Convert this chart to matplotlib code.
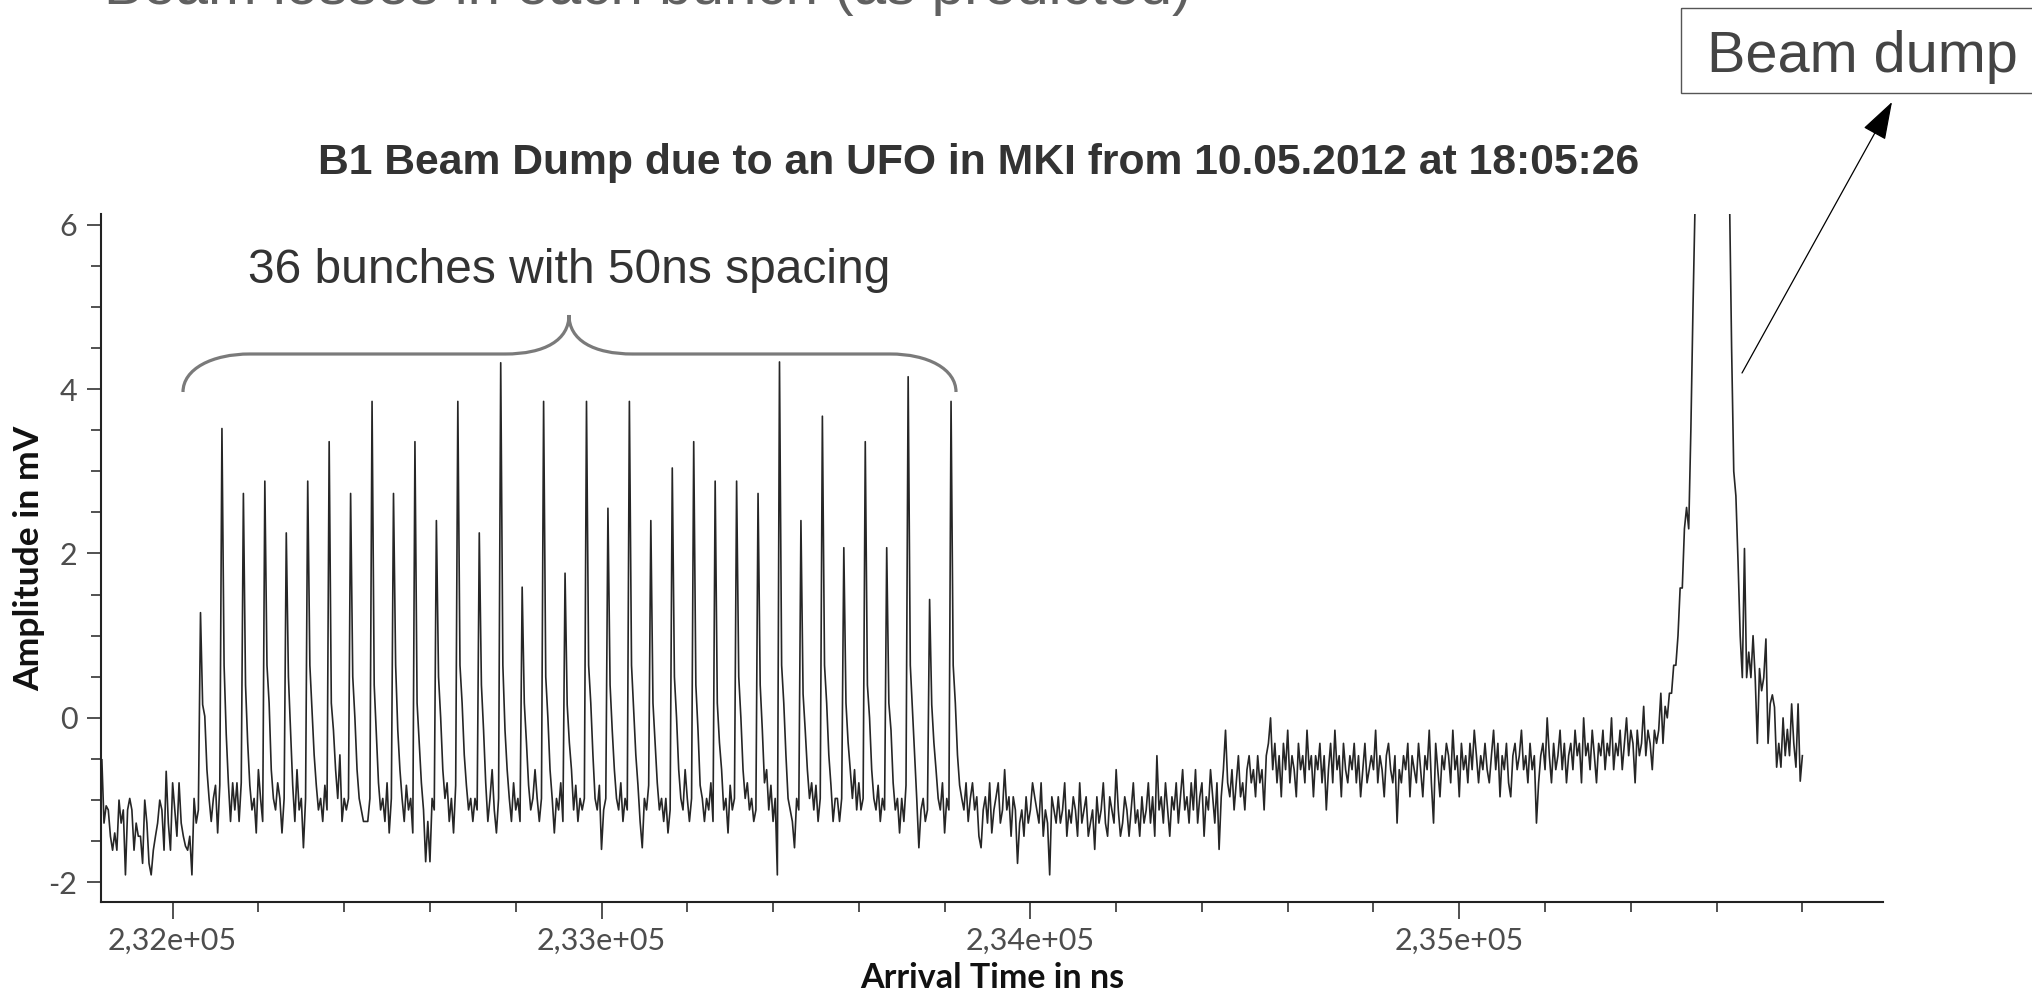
import numpy as np
import matplotlib.pyplot as plt
from matplotlib.patches import Rectangle, FancyArrowPatch, PathPatch
from matplotlib.path import Path
from matplotlib.ticker import MultipleLocator, FuncFormatter
from matplotlib.transforms import Affine2D

W, H = 2033, 994

# sampling of the scope trace
step_ns = 5
first_bunch_ns = 232065

# trace before the first bunch arrives (mV)
pre_train = [-0.51, -1.28, -1.07, -1.12, -1.44, -1.61, -1.40, -1.61, -1.00, -1.28,
             -1.12, -1.91, -1.12, -0.98, -1.12, -1.61, -1.28, -1.44, -1.44, -1.77,
             -1.00, -1.28, -1.77, -1.91, -1.61, -1.44, -1.28, -1.00, -1.12, -1.61,
             -0.65, -1.28, -1.61, -0.79, -1.12, -1.44, -0.79, -1.28, -1.44, -1.56,
             -1.61, -1.44, -1.91, -0.98, -1.28, -1.12]

# 36 bunches, 50 ns apart: peak value, then 9 samples of the tail
bunch_peaks = [1.28, 3.52, 2.73, 2.88, 2.25, 2.88, 3.36, 2.73, 3.85, 2.73,
               3.36, 2.40, 3.85, 2.25, 4.32, 1.59, 3.85, 1.76, 3.85, 2.55,
               3.85, 2.40, 3.04, 3.36, 2.88, 2.88, 2.73, 4.33, 2.40, 3.67,
               2.07, 3.36, 2.07, 4.15, 1.44, 3.85]
bunch_tails = [
    [0.16, 0.02, -0.63, -0.98, -1.26, -0.98, -0.82, -1.40, -0.82],
    [0.64, -0.20, -0.79, -1.26, -0.79, -1.12, -0.79, -1.26, -0.79],
    [0.40, -0.30, -0.82, -1.12, -0.98, -1.40, -0.63, -0.98, -1.26],
    [0.64, 0.18, -0.63, -0.98, -1.12, -0.79, -0.98, -1.40, -0.98],
    [0.50, -0.15, -0.82, -1.26, -0.63, -1.12, -0.98, -1.58, -0.98],
    [0.64, 0.10, -0.45, -0.82, -1.12, -0.98, -1.26, -0.82, -1.12],
    [0.18, -0.15, -0.63, -0.98, -0.45, -1.26, -0.98, -1.12, -0.98],
    [0.50, 0.00, -0.63, -0.98, -1.12, -1.26, -1.26, -1.26, -0.98],
    [0.40, -0.20, -0.79, -1.12, -0.98, -1.26, -0.79, -1.40, -0.98],
    [0.64, -0.15, -0.63, -0.98, -1.26, -0.82, -1.12, -0.98, -1.40],
    [0.18, -0.30, -0.79, -1.12, -1.75, -1.26, -1.75, -0.98, -1.12],
    [0.50, 0.00, -0.63, -0.98, -0.79, -1.26, -0.98, -1.40, -0.82],
    [0.64, 0.18, -0.45, -0.82, -1.12, -0.98, -1.26, -0.98, -1.12],
    [0.40, -0.15, -0.79, -1.26, -0.98, -0.63, -1.12, -1.40, -0.98],
    [0.64, -0.15, -0.63, -0.98, -1.26, -0.79, -1.12, -0.98, -1.26],
    [0.18, -0.30, -0.82, -1.12, -0.98, -0.63, -0.98, -1.26, -0.98],
    [0.50, 0.00, -0.63, -0.98, -1.40, -0.98, -1.12, -0.79, -1.26],
    [0.16, -0.30, -0.63, -1.12, -0.82, -1.26, -0.98, -1.12, -0.98],
    [0.64, 0.18, -0.45, -0.98, -1.12, -0.82, -1.60, -1.12, -0.98],
    [0.40, -0.15, -0.63, -0.98, -1.12, -0.79, -1.26, -0.98, -1.12],
    [0.64, 0.10, -0.45, -0.82, -1.26, -1.58, -0.98, -1.12, -0.82],
    [0.18, -0.30, -0.79, -1.12, -0.98, -1.26, -0.98, -1.40, -1.12],
    [0.50, 0.00, -0.63, -0.98, -1.12, -0.63, -0.98, -1.26, -0.98],
    [0.40, -0.15, -0.82, -0.98, -1.26, -0.98, -1.12, -0.79, -1.26],
    [0.18, -0.30, -0.63, -1.12, -0.98, -1.40, -0.82, -1.12, -0.98],
    [0.50, 0.00, -0.63, -0.98, -0.79, -1.12, -0.98, -1.26, -1.12],
    [0.40, -0.15, -0.79, -0.63, -1.12, -0.82, -1.26, -0.98, -1.91],
    [0.64, 0.18, -0.45, -0.98, -1.12, -1.26, -1.58, -0.98, -1.12],
    [0.29, -0.15, -0.63, -0.98, -0.79, -1.12, -0.82, -1.26, -0.98],
    [0.64, 0.18, -0.45, -0.82, -1.26, -0.98, -0.98, -1.26, -0.98],
    [0.18, -0.30, -0.63, -0.98, -0.63, -1.12, -0.79, -1.12, -0.98],
    [0.40, 0.00, -0.63, -0.98, -1.12, -0.82, -1.26, -0.98, -1.12],
    [0.18, -0.15, -0.79, -1.12, -0.98, -1.40, -0.98, -1.26, -0.82],
    [0.64, 0.10, -0.45, -0.98, -1.58, -1.12, -0.98, -1.26, -1.12],
    [0.16, -0.30, -0.63, -0.98, -1.12, -0.79, -1.40, -0.98, -1.12],
    [0.64, 0.18, -0.45, -0.82, -0.98, -1.12, -0.79, -1.26, -0.98],
]

# baseline after the train, up to the start of the dump (100 ns per two rows)
post_train = [
    -0.79, -1.12, -0.96, -1.44, -1.58, -1.12, -0.96, -1.28, -0.79, -1.40,
    -1.12, -0.96, -0.79, -1.28, -1.12, -0.63, -1.12, -0.96, -1.44, -0.96,
    -1.12, -1.77, -1.28, -1.12, -1.44, -0.96, -1.28, -1.12, -0.79, -0.96,
    -1.12, -1.28, -0.79, -1.44, -1.12, -1.28, -1.91, -0.96, -1.12, -1.28,
    -0.96, -1.28, -1.12, -0.79, -1.44, -1.12, -1.28, -0.96, -1.12, -1.44,
    -0.79, -1.28, -1.12, -0.96, -1.44, -1.28, -1.12, -1.60, -0.96, -1.28,
    -1.12, -0.79, -1.28, -1.44, -0.96, -1.12, -1.28, -0.63, -1.12, -1.44,
    -1.28, -0.96, -1.12, -1.44, -1.12, -0.79, -1.28, -1.12, -1.44, -0.96,
    -1.28, -1.12, -0.79, -1.28, -0.96, -1.44, -0.46, -1.12, -0.96, -1.28,
    -0.79, -1.12, -1.44, -0.96, -1.12, -0.79, -1.28, -0.96, -0.63, -1.12,
    -0.96, -1.28, -0.79, -1.12, -0.63, -1.28, -0.96, -0.79, -1.44, -0.96,
    -1.12, -0.63, -0.96, -1.28, -0.79, -1.60, -0.96, -0.63, -0.15, -0.79,
    -0.96, -0.63, -1.12, -0.79, -0.46, -0.96, -0.79, -1.12, -0.63, -0.46,
    -0.79, -0.63, -0.96, -0.46, -0.79, -0.63, -1.12, -0.46, -0.31, 0.00,
    -0.63, -0.31, -0.79, -0.46, -0.96, -0.31, -0.63, -0.15, -0.79, -0.46,
    -0.63, -0.96, -0.31, -0.63, -0.46, -0.79, -0.15, -0.63, -0.46, -0.96,
    -0.46, -0.63, -0.31, -0.79, -0.46, -1.12, -0.63, -0.31, -0.79, -0.15,
    -0.63, -0.46, -0.96, -0.31, -0.63, -0.79, -0.46, -0.63, -0.31, -0.79,
    -0.46, -0.96, -0.63, -0.31, -0.79, -0.63, -0.46, -0.63, -0.15, -0.79,
    -0.46, -0.63, -0.96, -0.46, -0.31, -0.63, -0.79, -0.46, -1.28, -0.63,
    -0.79, -0.46, -0.63, -0.31, -0.96, -0.46, -0.63, -0.79, -0.31, -0.63,
    -0.96, -0.46, -0.63, -0.15, -0.79, -1.28, -0.31, -0.63, -0.96, -0.46,
    -0.63, -0.31, -0.46, -0.79, -0.15, -0.63, -0.46, -0.96, -0.31, -0.63,
    -0.46, -0.79, -0.31, -0.63, -0.15, -0.46, -0.79, -0.46, -0.63, -0.31,
    -0.63, -0.79, -0.46, -0.15, -0.63, -0.31, -0.96, -0.46, -0.63, -0.31,
    -0.79, -0.96, -0.46, -0.31, -0.63, -0.46, -0.15, -0.63, -0.46, -0.79,
    -0.31, -0.63, -0.46, -1.28, -0.79, -0.46, -0.31, -0.63, 0.00, -0.46,
    -0.79, -0.31, -0.63, -0.46, -0.15, -0.63, -0.31, -0.79, -0.46, -0.31,
    -0.63, -0.15, -0.46, -0.31, -0.79, 0.00, -0.46, -0.31, -0.63, -0.15,
    -0.46, -0.79, -0.31, -0.46, -0.15, -0.63, -0.31, -0.46, 0.00, -0.63,
    -0.31, -0.46, -0.15, -0.63, -0.31, 0.00, -0.46, -0.15, -0.31, -0.79,
    -0.15, -0.46, -0.31, 0.14, -0.46, -0.15, -0.31, -0.63, -0.15, -0.31,
    -0.15, 0.30, -0.31, 0.14,
]

# the dump itself: fast rise, off-scale, decay back to the noise
dump = [0.00, 0.30, 0.30, 0.64, 0.64, 1.00, 1.58, 1.58, 2.30, 2.56,
        2.30, 3.50, 5.00, 6.30, 8.50, 11.0, 14.0, 17.0, 19.0, 20.0,
        20.0, 19.0, 17.0, 15.0, 13.0, 11.0, 9.50, 8.00, 7.00, 6.40,
        4.50, 3.00, 2.70, 1.90, 1.00, 0.49, 2.06, 0.49, 0.80, 0.49,
        1.00, 0.49, -0.31, 0.60, 0.33, 0.49, 0.96, -0.31, 0.17, 0.28,
        0.13, -0.60, -0.31, -0.60, 0.00, -0.46, -0.14, -0.46, 0.17, -0.31,
        -0.60, 0.17, -0.77, -0.46]

train = []
for peak, tail in zip(bunch_peaks, bunch_tails):
    train += [peak] + tail
signal = np.array(pre_train + train + post_train + dump)
t = first_bunch_ns - step_ns * len(pre_train) + step_ns * np.arange(len(signal))

fig = plt.figure(figsize=(W / 100, H / 100), dpi=100)
# reference pixel coordinates (origin top-left) -> figure
ref = Affine2D().scale(1 / W, -1 / H).translate(0, 1) + fig.transFigure

ax = fig.add_axes([101 / W, 1 - 902 / H, (1883 - 101) / W, (902 - 214) / H])
ax.plot(t, signal, color='#262626', lw=1.2)
ax.set_xlim(231833, 235988)
ax.set_ylim(-2.24, 6.13)

for s in ['top', 'right']:
    ax.spines[s].set_visible(False)
for s in ['left', 'bottom']:
    ax.spines[s].set_linewidth(1.5)
    ax.spines[s].set_color('#222222')

ax.xaxis.set_major_locator(MultipleLocator(1000))
ax.xaxis.set_minor_locator(MultipleLocator(200))
ax.yaxis.set_major_locator(MultipleLocator(2))
ax.yaxis.set_minor_locator(MultipleLocator(0.5))
ax.xaxis.set_major_formatter(FuncFormatter(lambda v, pos: f"{v:.2e}".replace('.', ',')))
ax.yaxis.set_major_formatter(FuncFormatter(lambda v, pos: f"{v:.0f}"))

ax.tick_params(axis='x', which='major', length=12, width=1.1, pad=6, color='#222222')
ax.tick_params(axis='x', which='minor', length=7, width=1.1, color='#222222')
ax.tick_params(axis='y', which='major', length=10, width=1.1, pad=7, color='#222222')
ax.tick_params(axis='y', which='minor', length=7, width=1.1, color='#222222')
for lab in ax.get_xticklabels() + ax.get_yticklabels():
    lab.set_fontfamily('Lato')
    lab.set_fontsize(22)
    lab.set_color('#4d4d4d')

ax.set_xlabel('Arrival Time in ns', fontfamily='Lato', fontweight='bold', fontsize=24.5,
              color='#111111', va='baseline')
ax.xaxis.set_label_coords(0.5, (902 - 988) / (902 - 214))
ax.set_ylabel('Amplitude in mV', fontfamily='Lato', fontweight='bold', fontsize=25.5,
              color='#111111', va='center')
ax.yaxis.set_label_coords((29 - 101) / (1883 - 101), 0.5)

# texts on the slide
fig.text(104, 4, 'Beam losses in each bunch (as predicted)', transform=ref,
         fontfamily='Liberation Sans', fontsize=42, color='#606060', va='baseline')
fig.text(979, 174, 'B1 Beam Dump due to an UFO in MKI from 10.05.2012 at 18:05:26',
         transform=ref, fontfamily='Liberation Sans', fontweight='bold', fontsize=30.7,
         color='#333333', ha='center', va='baseline')
fig.text(569, 283, '36 bunches with 50ns spacing', transform=ref,
         fontfamily='Liberation Sans', fontsize=34.5, color='#333333', ha='center', va='baseline')

# curly brace over the bunch train
verts = [(183, 392), (183, 369), (212, 354), (250, 354),
         (505, 354),
         (545, 354), (569, 340), (569, 315),
         (569, 340), (593, 354), (633, 354),
         (890, 354),
         (928, 354), (956, 369), (956, 392)]
codes = ([Path.MOVETO] + [Path.CURVE4] * 3 + [Path.LINETO] + [Path.CURVE4] * 6
         + [Path.LINETO] + [Path.CURVE4] * 3)
fig.add_artist(PathPatch(Path(verts, codes), transform=ref, fill=False,
                         edgecolor='#7a7a7a', lw=2.3))

# "Beam dump" box and arrow
fig.add_artist(Rectangle((1681, 8), 400, 85, transform=ref, fill=False,
                         edgecolor='#555555', lw=1))
fig.text(1707, 72, 'Beam dump', transform=ref, fontfamily='Liberation Sans',
         fontsize=41.5, color='#444444', va='baseline')
fig.add_artist(FancyArrowPatch((1742, 373), (1892, 102), transform=ref,
                               arrowstyle='-|>,head_length=24,head_width=8',
                               mutation_scale=1, shrinkA=0, shrinkB=0,
                               color='black', lw=0.9))

fig.savefig('out.png', dpi=100)
